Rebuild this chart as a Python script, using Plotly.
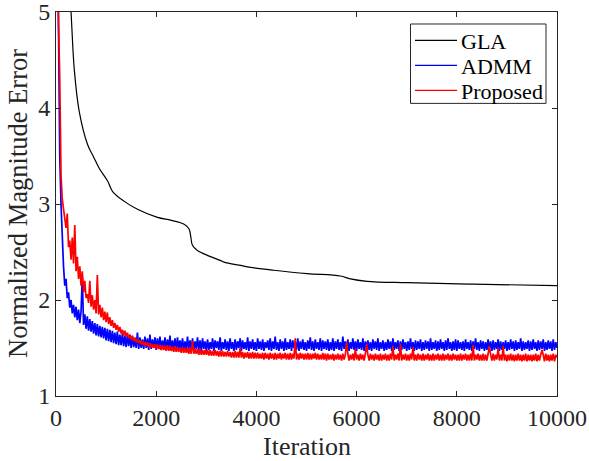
import plotly.graph_objects as go

# ---------------- data ----------------
gla_iter = [150, 250, 300, 365, 465, 630, 760, 865, 1030, 1130, 1355, 1627, 2025, 2300,
            2556, 2656, 2690, 2723, 2823, 3000, 3287, 3353, 3685, 3884, 4349, 5013, 5677,
            5876, 6209, 7006, 8333, 10000]
gla_err = [6.5, 5.4, 5.0, 4.4, 3.96, 3.62, 3.48, 3.37, 3.24, 3.13, 3.03, 2.945, 2.86, 2.83,
           2.79, 2.74, 2.66, 2.57, 2.515, 2.47, 2.41, 2.395, 2.36, 2.34, 2.31, 2.275, 2.25,
           2.22, 2.195, 2.18, 2.165, 2.15]

step_iter = list(range(0, 10001, 25))

admm_err = [
    7.5, 6.0, 4.6, 3.5, 3.0, 2.55, 2.35, 2.15, 2.22, 2.02, 2.08, 1.92, 2.0, 1.86, 1.95, 1.82, 1.93, 1.79, 1.9, 1.76,
    1.88, 2.24, 1.74, 1.85, 1.7, 1.83, 1.68, 1.8, 1.67, 1.78, 1.65, 1.76, 1.63, 1.75, 1.62, 1.73, 1.61, 1.72, 1.6, 1.71,
    1.58, 1.7, 1.57, 1.69, 1.56, 1.68, 1.55, 1.66, 1.54, 1.67, 1.53, 1.64, 1.53, 1.65, 1.52, 1.63, 1.51, 1.64, 1.52, 1.62,
    1.5, 1.63, 1.51, 1.6, 1.5, 1.66, 1.49, 1.61, 1.5, 1.59, 1.49, 1.62, 1.5, 1.6, 1.48, 1.64, 1.49, 1.59, 1.5, 1.61,
    1.48, 1.6, 1.49, 1.62, 1.48, 1.58, 1.5, 1.61, 1.48, 1.59, 1.49, 1.63, 1.48, 1.58, 1.49, 1.6, 1.47, 1.61, 1.49, 1.58,
    1.48, 1.6, 1.49, 1.57, 1.47, 1.62, 1.49, 1.58, 1.48, 1.6, 1.47, 1.57, 1.49, 1.61, 1.48, 1.58, 1.47, 1.6, 1.49, 1.57,
    1.47, 1.59, 1.48, 1.56, 1.49, 1.6, 1.47, 1.58, 1.5, 1.57, 1.48, 1.61, 1.47, 1.56, 1.49, 1.59, 1.48, 1.57, 1.47, 1.6,
    1.49, 1.56, 1.47, 1.59, 1.48, 1.57, 1.5, 1.6, 1.47, 1.58, 1.49, 1.56, 1.48, 1.61, 1.47, 1.57, 1.49, 1.59, 1.48, 1.56,
    1.47, 1.6, 1.49, 1.57, 1.48, 1.59, 1.47, 1.56, 1.5, 1.58, 1.48, 1.6, 1.47, 1.57, 1.49, 1.62, 1.48, 1.56, 1.47, 1.59,
    1.49, 1.57, 1.47, 1.6, 1.48, 1.56, 1.49, 1.59, 1.47, 1.58, 1.5, 1.56, 1.48, 1.6, 1.47, 1.57, 1.49, 1.59, 1.48, 1.56,
    1.47, 1.58, 1.49, 1.61, 1.48, 1.57, 1.47, 1.59, 1.49, 1.56, 1.48, 1.6, 1.47, 1.58, 1.49, 1.57, 1.48, 1.59, 1.47, 1.56,
    1.48, 1.6, 1.47, 1.57, 1.49, 1.59, 1.48, 1.56, 1.47, 1.62, 1.49, 1.57, 1.48, 1.59, 1.47, 1.56, 1.49, 1.6, 1.48, 1.57,
    1.47, 1.59, 1.49, 1.56, 1.48, 1.6, 1.47, 1.57, 1.49, 1.58, 1.48, 1.56, 1.47, 1.59, 1.49, 1.57, 1.48, 1.6, 1.47, 1.56,
    1.49, 1.58, 1.47, 1.56, 1.48, 1.59, 1.49, 1.57, 1.47, 1.6, 1.48, 1.56, 1.49, 1.58, 1.47, 1.57, 1.48, 1.59, 1.49, 1.56,
    1.47, 1.57, 1.48, 1.6, 1.49, 1.56, 1.47, 1.58, 1.48, 1.57, 1.49, 1.59, 1.47, 1.56, 1.48, 1.58, 1.49, 1.57, 1.47, 1.6,
    1.48, 1.56, 1.49, 1.58, 1.47, 1.57, 1.48, 1.59, 1.49, 1.56, 1.47, 1.58, 1.48, 1.6, 1.49, 1.56, 1.47, 1.57, 1.48, 1.59,
    1.47, 1.58, 1.49, 1.56, 1.48, 1.57, 1.47, 1.59, 1.49, 1.56, 1.48, 1.58, 1.47, 1.57, 1.49, 1.6, 1.48, 1.56, 1.47, 1.58,
    1.49, 1.57, 1.47, 1.56, 1.48, 1.59, 1.49, 1.57, 1.47, 1.58, 1.48, 1.56, 1.49, 1.59, 1.47, 1.57, 1.48, 1.56, 1.49, 1.58,
    1.47, 1.56, 1.48, 1.59, 1.49, 1.57, 1.47, 1.58, 1.48, 1.56, 1.49, 1.6, 1.47, 1.57, 1.48, 1.56, 1.49, 1.58, 1.47, 1.57,
    1.48, 1.59, 1.49, 1.56, 1.47, 1.58, 1.48, 1.57, 1.49, 1.59, 1.47, 1.56, 1.48, 1.58, 1.49, 1.57, 1.47, 1.59, 1.48, 1.56,
    1.5,
]

proposed_err = [
    7.0, 5.8, 4.9, 4.3, 3.3, 3.05, 2.95, 2.88, 2.75, 2.9, 2.55, 2.62, 2.42, 2.65, 2.38, 2.78, 2.3, 2.45, 2.22, 2.35,
    2.15, 2.3, 2.08, 2.2, 2.02, 2.06, 1.97, 2.2, 1.93, 2.05, 1.9, 2.0, 1.86, 2.26, 1.85, 1.95, 1.82, 1.92, 1.79, 1.88,
    1.77, 1.87, 1.75, 1.82, 1.73, 1.79, 1.71, 1.76, 1.69, 1.74, 1.67, 1.72, 1.65, 1.69, 1.63, 1.68, 1.62, 1.66, 1.6, 1.64,
    1.59, 1.62, 1.57, 1.61, 1.56, 1.59, 1.55, 1.58, 1.54, 1.57, 1.53, 1.56, 1.52, 1.56, 1.51, 1.55, 1.51, 1.54, 1.5, 1.54,
    1.49, 1.54, 1.49, 1.53, 1.48, 1.53, 1.48, 1.52, 1.47, 1.53, 1.47, 1.52, 1.47, 1.51, 1.46, 1.52, 1.46, 1.51, 1.46, 1.5,
    1.45, 1.51, 1.45, 1.5, 1.45, 1.5, 1.44, 1.5, 1.44, 1.57, 1.44, 1.49, 1.44, 1.49, 1.43, 1.49, 1.43, 1.48, 1.43, 1.48,
    1.43, 1.48, 1.42, 1.48, 1.42, 1.47, 1.42, 1.48, 1.42, 1.47, 1.41, 1.47, 1.41, 1.47, 1.41, 1.46, 1.41, 1.47, 1.41, 1.46,
    1.4, 1.46, 1.4, 1.47, 1.4, 1.46, 1.4, 1.5, 1.4, 1.46, 1.39, 1.45, 1.4, 1.46, 1.39, 1.45, 1.39, 1.46, 1.39, 1.45,
    1.39, 1.45, 1.39, 1.44, 1.39, 1.45, 1.38, 1.45, 1.39, 1.44, 1.38, 1.45, 1.39, 1.44, 1.38, 1.45, 1.38, 1.44, 1.39, 1.45,
    1.38, 1.44, 1.39, 1.45, 1.38, 1.44, 1.38, 1.45, 1.38, 1.44, 1.39, 1.6, 1.38, 1.44, 1.38, 1.45, 1.39, 1.44, 1.38, 1.44,
    1.38, 1.45, 1.38, 1.44, 1.38, 1.44, 1.39, 1.45, 1.38, 1.44, 1.38, 1.43, 1.38, 1.45, 1.38, 1.44, 1.37, 1.44, 1.38, 1.43,
    1.38, 1.44, 1.37, 1.43, 1.38, 1.44, 1.38, 1.43, 1.37, 1.44, 1.38, 1.43, 1.56, 1.44, 1.37, 1.43, 1.38, 1.44, 1.37, 1.49,
    1.38, 1.43, 1.37, 1.44, 1.38, 1.43, 1.37, 1.44, 1.54, 1.43, 1.37, 1.44, 1.38, 1.43, 1.37, 1.44, 1.38, 1.43, 1.37, 1.44,
    1.37, 1.43, 1.38, 1.44, 1.37, 1.43, 1.37, 1.44, 1.38, 1.52, 1.37, 1.43, 1.38, 1.44, 1.37, 1.54, 1.37, 1.43, 1.38, 1.44,
    1.37, 1.43, 1.37, 1.44, 1.38, 1.51, 1.37, 1.43, 1.37, 1.44, 1.38, 1.43, 1.37, 1.44, 1.37, 1.43, 1.38, 1.44, 1.37, 1.43,
    1.37, 1.44, 1.37, 1.43, 1.38, 1.44, 1.37, 1.43, 1.37, 1.44, 1.37, 1.43, 1.38, 1.44, 1.37, 1.43, 1.37, 1.44, 1.38, 1.43,
    1.37, 1.43, 1.37, 1.44, 1.37, 1.43, 1.38, 1.44, 1.37, 1.43, 1.37, 1.44, 1.37, 1.53, 1.37, 1.43, 1.38, 1.44, 1.37, 1.43,
    1.37, 1.44, 1.37, 1.43, 1.37, 1.44, 1.52, 1.43, 1.37, 1.44, 1.37, 1.43, 1.38, 1.5, 1.37, 1.43, 1.37, 1.52, 1.37, 1.43,
    1.36, 1.43, 1.37, 1.44, 1.37, 1.43, 1.36, 1.43, 1.37, 1.44, 1.37, 1.43, 1.36, 1.43, 1.37, 1.44, 1.36, 1.43, 1.37, 1.43,
    1.36, 1.43, 1.37, 1.44, 1.36, 1.43, 1.37, 1.43, 1.48, 1.43, 1.36, 1.44, 1.37, 1.43, 1.36, 1.43, 1.37, 1.44, 1.36, 1.43,
    1.4,
]

x_ticks = [0, 2000, 4000, 6000, 8000, 10000]
y_ticks = [1, 2, 3, 4, 5]

series_names = ["GLA", "ADMM", "Proposed"]
series_colors = ["black", "#0000ff", "#ff0000"]

# ---------------- figure ----------------
FONT = "Liberation Serif, Times New Roman, serif"
AXC = "#262626"
W, H = 589, 461
# plot area in window pixels: x 56..557, y 11.5..396
L, R, T, B = 56, 589 - 557, 11.5, 461 - 396
PW, PH = W - L - R, H - T - B

fig = go.Figure()
fig.add_trace(go.Scatter(x=gla_iter, y=gla_err, mode="lines", name=series_names[0],
                         line=dict(color=series_colors[0], width=1.2), line_shape="spline",
                         showlegend=False))
fig.add_trace(go.Scatter(x=step_iter, y=admm_err, mode="lines", name=series_names[1],
                         line=dict(color=series_colors[1], width=1.7), showlegend=False))
fig.add_trace(go.Scatter(x=step_iter, y=proposed_err, mode="lines", name=series_names[2],
                         line=dict(color=series_colors[2], width=1.7), showlegend=False))

axis_common = dict(showline=True, linecolor=AXC, linewidth=1, mirror="ticks",
                   ticks="inside", ticklen=5, tickcolor=AXC, showgrid=False,
                   zeroline=False, automargin=False, ticklabeloverflow="allow",
                   tickfont=dict(family=FONT, size=24, color=AXC))

fig.update_xaxes(range=[0, 10000], tickvals=x_ticks, ticktext=[str(v) for v in x_ticks],
                 **axis_common)
fig.update_yaxes(range=[1, 5], tickvals=y_ticks, ticktext=[str(v) for v in y_ticks],
                 **axis_common)


def wx(px):
    """window pixel x -> paper x"""
    return (px - L) / PW


def wy(py):
    """window pixel y -> paper y"""
    return (H - B - py) / PH


annotations = [
    dict(text="Iteration", x=0.5, y=wy(447), xref="paper", yref="paper",
         xanchor="center", yanchor="middle", showarrow=False,
         font=dict(family=FONT, size=26, color=AXC)),
    dict(text="Normalized Magnitude Error", x=wx(18), y=0.5, xref="paper", yref="paper",
         xanchor="center", yanchor="middle", textangle=-90, showarrow=False,
         font=dict(family=FONT, size=26.5, color=AXC)),
]

# manual legend (MATLAB style, compact rows)
shapes = [dict(type="rect", xref="paper", yref="paper",
               x0=wx(410.5), x1=wx(546), y0=wy(103), y1=wy(23.5),
               line=dict(color=AXC, width=1), fillcolor="white", layer="above")]
row_y = [40, 65, 90]
for name, color, ry in zip(series_names, series_colors, row_y):
    shapes.append(dict(type="line", xref="paper", yref="paper",
                       x0=wx(415), x1=wx(457), y0=wy(ry), y1=wy(ry),
                       line=dict(color=color, width=1.2), layer="above"))
    annotations.append(dict(text=name, x=wx(459), y=wy(ry + 1),
                            xref="paper", yref="paper", xanchor="left", yanchor="middle",
                            showarrow=False, font=dict(family=FONT, size=22, color="black")))

fig.update_layout(
    width=W, height=H,
    margin=dict(l=L, r=R, t=T, b=B, pad=0),
    paper_bgcolor="white", plot_bgcolor="white",
    showlegend=False,
    shapes=shapes,
    annotations=annotations,
)

# remove the default page margin so the figure fills the window exactly
fig.write_html("out.html", config={"displayModeBar": False},
               post_script="document.body.style.margin='0px';")
